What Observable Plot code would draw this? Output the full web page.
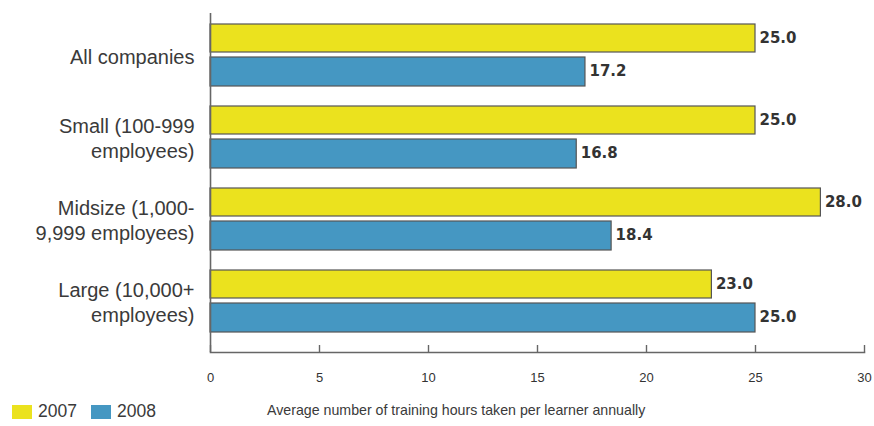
<!DOCTYPE html>
<html>
<head>
<meta charset="utf-8">
<script src="https://cdn.jsdelivr.net/npm/d3@7"></script>
<script src="https://cdn.jsdelivr.net/npm/@observablehq/plot@0.6"></script>
<style>
  html, body { margin: 0; padding: 0; background: #fff; }
  #wrap { position: relative; width: 874px; height: 426px; }
  .lab { font-family: "Liberation Sans", Arial, sans-serif; color: #3a3a3a; }
  #legend { position: absolute; left: 12px; top: 401px; display: flex; align-items: center; font-size: 17.5px; }
  #legend .sw { width: 20px; height: 14px; display: inline-block; margin-right: 6px; }
  #legend .item { display: flex; align-items: center; margin-right: 14px; }
  #caption { position: absolute; left: 267px; top: 402px; font-size: 14.2px; white-space: nowrap; }
</style>
</head>
<body>
<div id="wrap">
  <div id="chart"></div>
  <div id="legend" class="lab"></div>
  <div id="caption" class="lab">Average number of training hours taken per learner annually</div>
</div>
<script>
// Company size groups and average training hours per learner
const categories = [
  "All companies",
  "Small (100-999\nemployees)",
  "Midsize (1,000-\n9,999 employees)",
  "Large (10,000+\nemployees)"
];
const years = ["2007", "2008"];
const hours2007 = [25.0, 25.0, 28.0, 23.0];
const hours2008 = [17.2, 16.8, 18.4, 25.0];
const xTicks = [0, 5, 10, 15, 20, 25, 30];
const colors = {"2007": "#ebe21e", "2008": "#4597c2"};

const rows2007 = categories.map((c, i) => ({category: c, year: "2007", hours: hours2007[i]}));
const rows2008 = categories.map((c, i) => ({category: c, year: "2008", hours: hours2008[i]}));

const sans = "Liberation Sans, Arial, sans-serif";
const axisColor = "#666";

const chart = Plot.plot({
  width: 874,
  height: 395,
  marginLeft: 210,
  marginRight: 10,
  marginTop: 13,
  marginBottom: 43,
  style: {background: "#fff", color: "#333"},
  x: {domain: [0, 30], axis: null},
  y: {domain: categories, paddingInner: 0.244, paddingOuter: 0.189, align: 0.355, axis: null},
  marks: [
    // 2007 bars sit in the upper half of each group, 2008 in the lower half
    Plot.barX(rows2007, {y: "category", x: "hours", fill: colors["2007"], stroke: "#555", strokeWidth: 1.2, insetBottom: 34}),
    Plot.barX(rows2008, {y: "category", x: "hours", fill: colors["2008"], stroke: "#555", strokeWidth: 1.2, insetTop: 33}),
    Plot.text(rows2007, {y: "category", x: "hours", text: d => d.hours.toFixed(1), dy: -17, dx: 4, textAnchor: "start",
      fontFamily: "DejaVu Sans, Verdana, sans-serif", fontWeight: "bold", fontSize: 15, fill: "#333"}),
    Plot.text(rows2008, {y: "category", x: "hours", text: d => d.hours.toFixed(1), dy: 16, dx: 4, textAnchor: "start",
      fontFamily: "DejaVu Sans, Verdana, sans-serif", fontWeight: "bold", fontSize: 15, fill: "#333"}),
    // L-shaped frame: left edge and bottom baseline
    Plot.ruleX([0], {stroke: axisColor, strokeWidth: 1.6}),
    Plot.frame({anchor: "bottom", stroke: axisColor, strokeWidth: 1.6}),
    Plot.axisY({tickSize: 0, tickPadding: 16, fontFamily: sans, fontSize: 20, lineHeight: 1.25, fill: "#3a3a3a", label: null}),
    Plot.axisX({anchor: "bottom", ticks: xTicks, tickSize: -7, tickPadding: 27, stroke: axisColor, strokeWidth: 1.4,
      fontFamily: sans, fontSize: 13, fill: "#333", label: null})
  ]
});
document.getElementById("chart").appendChild(chart);

// Year legend
const legend = document.getElementById("legend");
years.forEach(y => {
  const item = document.createElement("span");
  item.className = "item";
  const sw = document.createElement("span");
  sw.className = "sw";
  sw.style.background = colors[y];
  item.appendChild(sw);
  item.appendChild(document.createTextNode(y));
  legend.appendChild(item);
});
</script>
</body>
</html>
